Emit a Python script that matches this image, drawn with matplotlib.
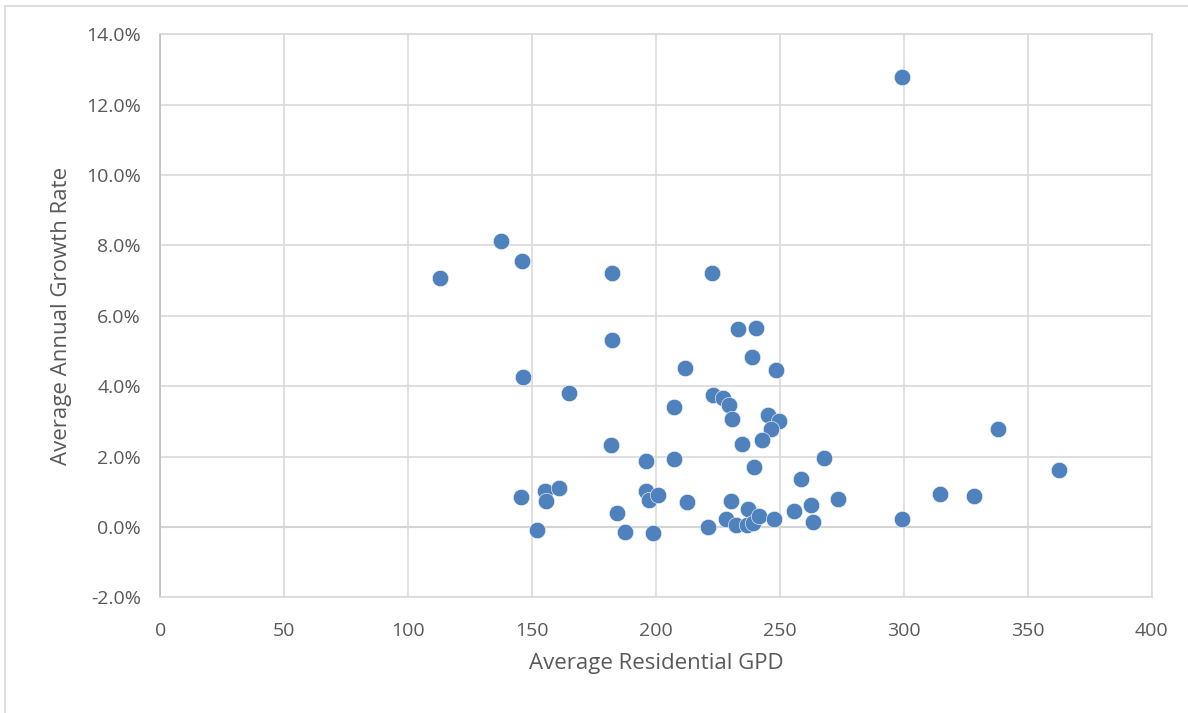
import numpy as np
import matplotlib
matplotlib.use("Agg")
import matplotlib.pyplot as plt
from matplotlib.lines import Line2D
from matplotlib.ticker import FuncFormatter

# values
gpd = [112.8, 137.4, 145.9, 182.2, 222.6, 299.2, 233.0, 240.3, 182.2, 238.7,
       211.6, 248.4, 146.3, 164.9, 223.0, 227.0, 229.4, 207.2, 230.6, 245.2,
       249.6, 246.3, 242.7, 234.7, 181.8, 195.9, 207.2, 239.5, 267.8, 258.5,
       337.9, 362.6, 145.5, 155.2, 155.6, 160.8, 151.9, 184.2, 187.4, 195.9,
       197.1, 200.8, 198.7, 212.4, 220.9, 228.2, 230.2, 232.2, 237.0, 236.6,
       239.1, 241.5, 247.6, 255.6, 262.5, 263.3, 273.4, 299.2, 314.5, 328.2]
growth = [7.07, 8.12, 7.56, 7.22, 7.22, 12.78, 5.63, 5.65, 5.31, 4.83,
          4.52, 4.46, 4.26, 3.81, 3.75, 3.66, 3.47, 3.41, 3.07, 3.18,
          3.01, 2.78, 2.47, 2.36, 2.33, 1.88, 1.93, 1.70, 1.96, 1.36,
          2.78, 1.62, 0.85, 1.02, 0.74, 1.11, -0.09, 0.40, -0.14, 1.02,
          0.77, 0.91, -0.17, 0.71, 0.00, 0.23, 0.74, 0.06, 0.51, 0.06,
          0.11, 0.31, 0.23, 0.45, 0.62, 0.14, 0.80, 0.23, 0.94, 0.88]

xticks = [0, 50, 100, 150, 200, 250, 300, 350, 400]
yticks = [-2, 0, 2, 4, 6, 8, 10, 12, 14]

plt.rcParams['font.family'] = ['Open Sans', 'DejaVu Sans']
txt = '#595959'

fig = plt.figure(figsize=(11.88, 7.13), dpi=100)
ax = fig.add_axes([0.1351, 0.162, 0.9695 - 0.1351, 0.9519 - 0.162])

ax.scatter(gpd, growth, s=140, color='#4F81BD', edgecolors='white',
           linewidths=0.4, zorder=3)

ax.set_xlim(0, 400)
ax.set_ylim(-2, 14)
ax.set_xticks(xticks)
ax.set_yticks(yticks)
ax.yaxis.set_major_formatter(FuncFormatter(lambda v, p: '{:.1f}%'.format(v)))
ax.grid(True, color='#D9D9D9', linewidth=1.2, zorder=0)
ax.axhline(0, color='#BFBFBF', linewidth=1.5, zorder=1)
for s in ax.spines.values():
    s.set_color('#D9D9D9')
    s.set_linewidth(1.2)
ax.spines['left'].set_color('#BFBFBF')
ax.tick_params(length=0, labelsize=14, labelcolor=txt)
ax.tick_params(axis='x', pad=18)
ax.tick_params(axis='y', pad=14)

ax.set_xlabel('Average Residential GPD', fontsize=16, color=txt, labelpad=9)
ax.set_ylabel('Average Annual Growth Rate', fontsize=16, color=txt, labelpad=10)

# chart-area border (runs off right and bottom edges)
fig.add_artist(Line2D([5 / 1188, 1.0], [1 - 6 / 713, 1 - 6 / 713],
                      color='#D9D9D9', linewidth=1.2))
fig.add_artist(Line2D([5 / 1188, 5 / 1188], [0.0, 1 - 6 / 713],
                      color='#D9D9D9', linewidth=1.2))

fig.savefig('out.png', dpi=100)
